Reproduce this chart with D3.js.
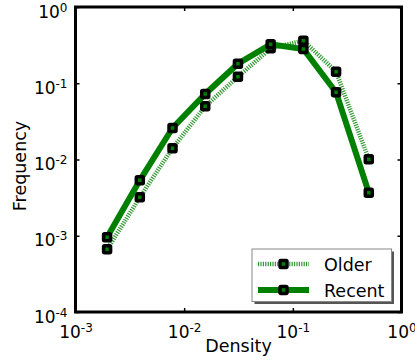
<!DOCTYPE html>
<html>
<head>
<meta charset="utf-8">
<script src="https://cdn.jsdelivr.net/npm/d3@7/dist/d3.min.js"></script>
<style>
  body { margin: 0; background: #fff; }
  svg text { font-family: "DejaVu Sans", sans-serif; fill: #000; }
</style>
</head>
<body>
<svg width="415" height="363"></svg>
<script>
// density bins (powers of two) and the two frequency series
var density = [0.001953, 0.003906, 0.007813, 0.015625, 0.03125, 0.0625, 0.125, 0.25, 0.5];
var olderFreq = [0.000664, 0.00319, 0.0140, 0.0499, 0.122, 0.287, 0.361, 0.142, 0.0101];
var recentFreq = [0.000955, 0.00533, 0.0259, 0.0723, 0.180, 0.324, 0.281, 0.0761, 0.00367];
var seriesNames = ["Older", "Recent"];
var xTicks = [1e-3, 1e-2, 1e-1, 1e0];
var yTicks = [1e-4, 1e-3, 1e-2, 1e-1, 1e0];
var xTickLabels = ["-3", "-2", "-1", "0"];
var yTickLabels = ["-4", "-3", "-2", "-1", "0"];

var green = "#008000";
var plotLeft = 75.5, plotRight = 401.5, plotTop = 7, plotBottom = 312;

var svg = d3.select("svg");

var x = d3.scaleLog().domain([1e-3, 1e0]).range([plotLeft, plotRight]);
var y = d3.scaleLog().domain([1e-4, 1e0]).range([plotBottom, plotTop]);

function powLabel(sel, exps) {
    sel.selectAll(".tick text").each(function(d, i) {
        var t = d3.select(this).text("");
        t.append("tspan").text("10");
        t.append("tspan").attr("dy", "-0.5em").style("font-size", "12px").text(exps[i]);
    });
}

// axes (ticks inside, all four sides)
var gx = svg.append("g").attr("transform", "translate(0," + plotBottom + ")")
    .call(d3.axisBottom(x).tickValues(xTicks).tickSize(-4).tickPadding(10));
gx.selectAll(".tick text").style("font-size", "17px").attr("dy", "0.95em");
powLabel(gx, xTickLabels);

var gy = svg.append("g").attr("transform", "translate(" + plotLeft + ",0)")
    .call(d3.axisLeft(y).tickValues(yTicks).tickSize(-4).tickPadding(8));
gy.selectAll(".tick text").style("font-size", "17px").attr("dy", "0.6em");
powLabel(gy, yTickLabels);

svg.append("g").attr("transform", "translate(0," + plotTop + ")")
    .call(d3.axisTop(x).tickValues(xTicks).tickSize(-4).tickFormat(""));
svg.append("g").attr("transform", "translate(" + plotRight + ",0)")
    .call(d3.axisRight(y).tickValues(yTicks).tickSize(-4).tickFormat(""));

svg.selectAll(".domain").remove();
svg.selectAll(".tick line").attr("stroke", "#000").attr("stroke-width", 1.5);

// frame
svg.append("rect")
    .attr("x", plotLeft).attr("y", plotTop)
    .attr("width", plotRight - plotLeft).attr("height", plotBottom - plotTop)
    .attr("fill", "none").attr("stroke", "#000").attr("stroke-width", 3);

// axis labels
svg.append("text").attr("x", (plotLeft + plotRight) / 2).attr("y", 352)
    .attr("text-anchor", "middle").style("font-size", "17.5px").text("Density");
svg.append("text").attr("transform", "translate(25.5,166) rotate(-90)")
    .attr("text-anchor", "middle").style("font-size", "17.5px").text("Frequency");

var line = d3.line()
    .x(function(d) { return x(d[0]); })
    .y(function(d) { return y(d[1]); });

var styles = [
    { width: 4.5, dash: "1.2,1.2", opacity: 0.8 },
    { width: 6, dash: null, opacity: 1 }
];

function drawMarker(g, cx, cy) {
    g.append("rect")
        .attr("x", cx - 3.5).attr("y", cy - 3.5)
        .attr("width", 7).attr("height", 7).attr("rx", 1)
        .attr("fill", green).attr("stroke", "#000").attr("stroke-width", 3.5);
}

[olderFreq, recentFreq].forEach(function(vals, s) {
    var pts = density.map(function(d, i) { return [d, vals[i]]; });
    var g = svg.append("g");
    g.append("path").attr("d", line(pts))
        .attr("fill", "none").attr("stroke", green)
        .attr("stroke-width", styles[s].width)
        .attr("stroke-dasharray", styles[s].dash)
        .attr("opacity", styles[s].opacity);
    pts.forEach(function(p) { drawMarker(g, x(p[0]), y(p[1])); });
});

// legend
var leg = svg.append("g");
leg.append("rect").attr("x", 254.5).attr("y", 251.5).attr("width", 139.5).attr("height", 52.5)
    .attr("fill", "#555");
leg.append("rect").attr("x", 252).attr("y", 249).attr("width", 139.5).attr("height", 52.5)
    .attr("fill", "#fff").attr("stroke", "#888").attr("stroke-width", 1);
seriesNames.forEach(function(name, s) {
    var ly = 264 + s * 26;
    leg.append("line").attr("x1", 258).attr("x2", 309).attr("y1", ly).attr("y2", ly)
        .attr("stroke", green).attr("stroke-width", styles[s].width)
        .attr("stroke-dasharray", styles[s].dash).attr("opacity", styles[s].opacity);
    drawMarker(leg, 283.5, ly);
    leg.append("text").attr("x", 324).attr("y", ly + 6.5)
        .style("font-size", "17.5px").text(name);
});
</script>
</body>
</html>
